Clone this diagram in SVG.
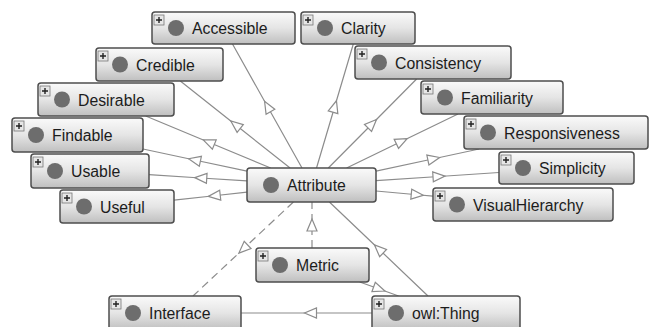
<svg xmlns="http://www.w3.org/2000/svg" xmlns:xlink="http://www.w3.org/1999/xlink" width="651" height="327" viewBox="0 0 651 327">
<defs>
<linearGradient id="g" x1="0" y1="0" x2="0" y2="1">
<stop offset="0" stop-color="#fafafa"/>
<stop offset="0.5" stop-color="#e5e5e5"/>
<stop offset="1" stop-color="#bfbfbf"/>
</linearGradient>
<marker id="tri" markerUnits="userSpaceOnUse" markerWidth="16" markerHeight="14" viewBox="-8 -7 16 14" refX="0" refY="0" orient="auto">
<path d="M6,0 L-6,-5 L-6,5 Z" fill="#fff" stroke="#8c8c8c" stroke-width="1.2"/>
</marker>
<g id="plus">
<rect x="0" y="0" width="10" height="10" fill="#e6e6e6" stroke="#777" stroke-width="0.8"/>
<path d="M2,5 H8 M5,2 V8" stroke="#222" stroke-width="1.4"/>
</g>
</defs>
<style>
.box{fill:url(#g);stroke:#4d4d4d;stroke-width:1.5}
.dot{fill:#6d6d6d}
.lbl{font-family:"Liberation Sans",Arial,sans-serif;font-size:15.8px;fill:#1c1c1c}
.edge{fill:none;stroke:#8c8c8c;stroke-width:1.2;marker-mid:url(#tri)}
.dash{stroke-dasharray:8 5}
</style>
<rect width="651" height="327" fill="#fff"/>
<g id="connectors">
<path class="edge" d="M302,168 L267.5,106.5 L232.5,44"/>
<path class="edge" d="M316.5,168 L334.75,106.5 L353.3,44"/>
<path class="edge" d="M328.3,168 L372.25,123.75 L416.6,79"/>
<path class="edge" d="M346.6,168 L401.75,141.25 L458,114"/>
<path class="edge" d="M376,171.1 L433.75,158.75 L479.1,149"/>
<path class="edge" d="M376,180.7 L439,176.5 L499,172.5"/>
<path class="edge" d="M376,191 L417.25,194.75 L433,196.2"/>
<path class="edge" d="M290.1,168 L235.5,124.75 L180.3,81"/>
<path class="edge" d="M270.7,168 L208.75,142.25 L145.7,116"/>
<path class="edge" d="M247,171.2 L194.5,160 L143,149"/>
<path class="edge" d="M247,180.9 L200.75,178 L149,174.7"/>
<path class="edge" d="M247,192.1 L214.25,195.75 L174,200.2"/>
<path class="edge dash" d="M312,248 L312,225 L312,202"/>
<path class="edge dash" d="M293.4,202 L243.25,249 L193,296"/>
<path class="edge" d="M428,296 L378.75,249 L329.4,202"/>
<path class="edge" d="M359.7,282 L379.25,289 L398.6,296"/>
<path class="edge" d="M372,313 L310.5,313 L241,313"/>
</g>
<g id="accessible"><rect class="box" x="152" y="12" width="143" height="32" rx="3"/><use xlink:href="#plus" x="154" y="15"/><circle class="dot" cx="176" cy="28" r="8"/><text class="lbl" x="192" y="34">Accessible</text></g>
<g id="clarity"><rect class="box" x="301" y="12" width="114" height="32" rx="3"/><use xlink:href="#plus" x="303" y="15"/><circle class="dot" cx="325" cy="28" r="8"/><text class="lbl" x="341" y="34">Clarity</text></g>
<g id="consistency"><rect class="box" x="355" y="46" width="156" height="33" rx="3"/><use xlink:href="#plus" x="357" y="49"/><circle class="dot" cx="379" cy="62.5" r="8"/><text class="lbl" x="395" y="68.5">Consistency</text></g>
<g id="familiarity"><rect class="box" x="421" y="81" width="142" height="33" rx="3"/><use xlink:href="#plus" x="423" y="84"/><circle class="dot" cx="445" cy="97.5" r="8"/><text class="lbl" x="461" y="103.5">Familiarity</text></g>
<g id="credible"><rect class="box" x="96" y="48" width="127" height="33" rx="3"/><use xlink:href="#plus" x="98" y="51"/><circle class="dot" cx="120" cy="64.5" r="8"/><text class="lbl" x="136" y="70.5">Credible</text></g>
<g id="desirable"><rect class="box" x="38" y="83" width="136" height="33" rx="3"/><use xlink:href="#plus" x="40" y="86"/><circle class="dot" cx="62" cy="99.5" r="8"/><text class="lbl" x="78" y="105.5">Desirable</text></g>
<g id="findable"><rect class="box" x="12" y="118" width="131" height="34" rx="3"/><use xlink:href="#plus" x="14" y="121"/><circle class="dot" cx="36" cy="135" r="8"/><text class="lbl" x="52" y="141">Findable</text></g>
<g id="usable"><rect class="box" x="31" y="154" width="118" height="34" rx="3"/><use xlink:href="#plus" x="33" y="157"/><circle class="dot" cx="55" cy="171" r="8"/><text class="lbl" x="71" y="177">Usable</text></g>
<g id="useful"><rect class="box" x="60" y="190" width="114" height="33" rx="3"/><use xlink:href="#plus" x="62" y="193"/><circle class="dot" cx="84" cy="206.5" r="8"/><text class="lbl" x="100" y="212.5">Useful</text></g>
<g id="responsiveness"><rect class="box" x="464" y="116" width="184" height="33" rx="3"/><use xlink:href="#plus" x="466" y="119"/><circle class="dot" cx="488" cy="132.5" r="8"/><text class="lbl" x="504" y="138.5">Responsiveness</text></g>
<g id="simplicity"><rect class="box" x="499" y="152" width="135" height="32" rx="3"/><use xlink:href="#plus" x="501" y="155"/><circle class="dot" cx="523" cy="168" r="8"/><text class="lbl" x="539" y="174">Simplicity</text></g>
<g id="visualhierarchy"><rect class="box" x="433" y="188" width="180" height="33" rx="3"/><use xlink:href="#plus" x="435" y="191"/><circle class="dot" cx="457" cy="204.5" r="8"/><text class="lbl" x="473" y="210.5">VisualHierarchy</text></g>
<g id="attribute"><rect class="box" x="247" y="168" width="129" height="34" rx="3"/><circle class="dot" cx="271" cy="185" r="8"/><text class="lbl" x="287" y="191">Attribute</text></g>
<g id="metric"><rect class="box" x="256" y="248" width="113" height="34" rx="3"/><use xlink:href="#plus" x="258" y="251"/><circle class="dot" cx="280" cy="265" r="8"/><text class="lbl" x="296" y="271">Metric</text></g>
<g id="owlthing"><rect class="box" x="372" y="296" width="148" height="34" rx="3"/><use xlink:href="#plus" x="374" y="299"/><circle class="dot" cx="396" cy="313" r="8"/><text class="lbl" x="412" y="319">owl:Thing</text></g>
<g id="interface"><rect class="box" x="109" y="296" width="132" height="34" rx="3"/><use xlink:href="#plus" x="111" y="299"/><circle class="dot" cx="133" cy="313" r="8"/><text class="lbl" x="149" y="319">Interface</text></g>
</svg>
